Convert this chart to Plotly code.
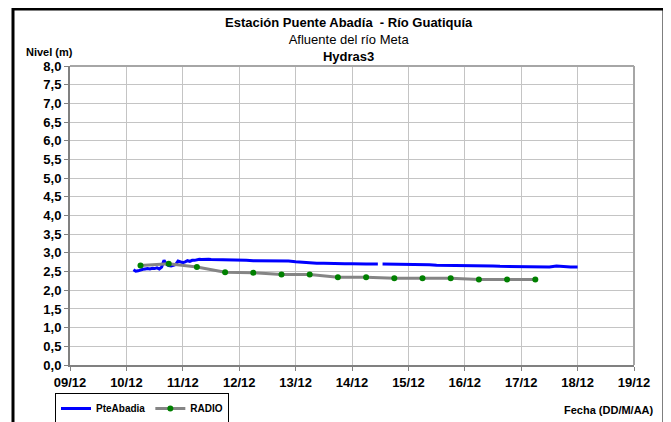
"""Nivel del río Guatiquía en la estación Puente Abadía (Hydras3 vs RADIO)."""

import plotly.graph_objects as go

# ── Data ──────────────────────────────────────────────────────────────────────
pte_times = [
    "2010-12-10 03:00", "2010-12-10 04:00", "2010-12-10 05:00", "2010-12-10 06:00",
    "2010-12-10 07:00", "2010-12-10 08:00", "2010-12-10 09:00", "2010-12-10 10:00",
    "2010-12-10 11:00", "2010-12-10 12:00", "2010-12-10 13:00", "2010-12-10 14:00",
    "2010-12-10 15:00", "2010-12-10 16:00", "2010-12-10 17:00", "2010-12-10 18:00",
    "2010-12-10 19:00", "2010-12-10 20:00", "2010-12-10 21:00", "2010-12-10 22:00",
    "2010-12-10 23:00", "2010-12-11 00:00", "2010-12-11 01:00", "2010-12-11 02:00",
    "2010-12-11 03:00", "2010-12-11 04:00", "2010-12-11 05:00", "2010-12-11 06:00",
    "2010-12-11 07:00", "2010-12-11 08:00", "2010-12-11 09:00", "2010-12-11 10:00",
    "2010-12-11 11:00", "2010-12-11 12:00",
    "2010-12-11 15:00", "2010-12-11 18:00", "2010-12-11 21:00",
    "2010-12-12 00:00", "2010-12-12 03:00", "2010-12-12 06:00", "2010-12-12 09:00",
    "2010-12-12 12:00", "2010-12-12 15:00", "2010-12-12 18:00", "2010-12-12 21:00",
    "2010-12-13 00:00", "2010-12-13 03:00", "2010-12-13 06:00", "2010-12-13 09:00",
    "2010-12-13 12:00", "2010-12-13 15:00", "2010-12-13 18:00", "2010-12-13 21:00",
    "2010-12-14 00:00", "2010-12-14 03:00", "2010-12-14 06:00", "2010-12-14 09:00",
    "2010-12-14 11:00", "2010-12-14 12:00", "2010-12-14 13:00", "2010-12-14 15:00",
    "2010-12-14 18:00", "2010-12-14 21:00",
    "2010-12-15 00:00", "2010-12-15 03:00", "2010-12-15 06:00", "2010-12-15 09:00",
    "2010-12-15 12:00", "2010-12-15 15:00", "2010-12-15 18:00", "2010-12-15 21:00",
    "2010-12-16 00:00", "2010-12-16 03:00", "2010-12-16 06:00", "2010-12-16 09:00",
    "2010-12-16 12:00", "2010-12-16 15:00", "2010-12-16 18:00", "2010-12-16 21:00",
    "2010-12-17 00:00", "2010-12-17 03:00", "2010-12-17 06:00", "2010-12-17 09:00",
    "2010-12-17 12:00", "2010-12-17 15:00", "2010-12-17 18:00", "2010-12-17 21:00",
    "2010-12-18 00:00",
]
pte_levels = [
    2.55, 2.51, 2.52, 2.55, 2.56, 2.57, 2.58, 2.57,
    2.59, 2.58, 2.60, 2.57, 2.62, 2.80, 2.70, 2.66,
    2.65, 2.67, 2.69, 2.78, 2.77, 2.74, 2.76, 2.79,
    2.77, 2.80, 2.80, 2.82, 2.83, 2.82, 2.83, 2.82,
    2.83, 2.82,
    2.82, 2.81, 2.81,
    2.80, 2.80, 2.79, 2.79, 2.78, 2.78, 2.79, 2.78,
    2.76, 2.74, 2.73, 2.72, 2.72, 2.71, 2.72, 2.71,
    2.71, 2.70, 2.70, 2.70, 2.70, None, 2.70, 2.70,
    2.69, 2.69,
    2.69, 2.69, 2.68, 2.68, 2.67, 2.67, 2.67, 2.66,
    2.66, 2.66, 2.65, 2.65, 2.65, 2.64, 2.64, 2.64,
    2.64, 2.63, 2.63, 2.64, 2.62, 2.65, 2.63, 2.62,
    2.62,
]

radio_times = [
    "2010-12-10 06:00", "2010-12-10 18:00", "2010-12-11 06:00", "2010-12-11 18:00",
    "2010-12-12 06:00", "2010-12-12 18:00", "2010-12-13 06:00", "2010-12-13 18:00",
    "2010-12-14 06:00", "2010-12-14 18:00", "2010-12-15 06:00", "2010-12-15 18:00",
    "2010-12-16 06:00", "2010-12-16 18:00", "2010-12-17 06:00",
]
radio_levels = [
    2.66, 2.71, 2.62, 2.48, 2.47, 2.42, 2.42, 2.35,
    2.35, 2.32, 2.32, 2.32, 2.29, 2.29, 2.29,
]

# ── Style ─────────────────────────────────────────────────────────────────────
_FONT = "Liberation Sans, Arial, sans-serif"
_GRID = "#c4c4c4"
_AXIS = "#808080"

# the page body has an 8px margin, so the figure is sized and placed to match
_OFF = 8
_W, _H = 671 - _OFF, 422 - _OFF
# plot area in page pixels: x 70..634, y 66..365
_L, _R, _T, _B = 70 - _OFF, 634 - _OFF, 66 - _OFF, 365 - _OFF


def _px(x):
    """Page pixel x -> paper coordinate."""
    return (x - _OFF - _L) / (_R - _L)


def _py(y):
    """Page pixel y -> paper coordinate."""
    return (_B - (y - _OFF)) / (_B - _T)


fig = go.Figure()
fig.add_trace(go.Scatter(
    x=pte_times, y=pte_levels, mode="lines", name="PteAbadia",
    line=dict(color="#0000ff", width=3), connectgaps=False,
))
fig.add_trace(go.Scatter(
    x=radio_times, y=radio_levels, mode="lines+markers", name="RADIO",
    line=dict(color="#858585", width=3),
    marker=dict(color="#008000", size=6),
))

fig.update_layout(
    width=_W, height=_H,
    margin=dict(l=_L, r=_W - _R, t=_T, b=_H - _B, autoexpand=False),
    paper_bgcolor="white", plot_bgcolor="white",
    font=dict(family=_FONT, color="black"),
    separators=",.",
    showlegend=True,
    legend=dict(
        orientation="h", xref="container", yref="container",
        x=(55 - _OFF) / _W, y=1 - (393 - _OFF) / _H, xanchor="left", yanchor="top",
        bordercolor="black", borderwidth=1, bgcolor="white",
        font=dict(size=10, family=_FONT, weight="bold"),
        itemwidth=30, tracegroupgap=0,
    ),
    xaxis=dict(
        type="date", range=["2010-12-09", "2010-12-19"],
        dtick=86400000, tickformat="%d/%m", tick0="2010-12-09",
        showgrid=True, gridcolor=_GRID, gridwidth=1,
        showline=True, linecolor=_AXIS, linewidth=2, mirror=False,
        ticks="outside", ticklen=4, tickcolor=_AXIS,
        tickfont=dict(size=13, weight="bold"), zeroline=False,
    ),
    yaxis=dict(
        range=[0, 8], dtick=0.5, tickformat=".1f",
        showgrid=True, gridcolor=_GRID, gridwidth=1,
        showline=True, linecolor=_AXIS, linewidth=2,
        ticks="outside", ticklen=4, tickcolor=_AXIS,
        tickfont=dict(size=13, weight="bold"), zeroline=False,
    ),
)

# plot border (top and right) in light gray
fig.add_shape(type="line", xref="paper", yref="paper", x0=0, x1=1, y0=1, y1=1,
              line=dict(color="#a6a6a6", width=2))
fig.add_shape(type="line", xref="paper", yref="paper", x0=1, x1=1, y0=0, y1=1,
              line=dict(color="#a6a6a6", width=2))
# outer black frame
fig.add_shape(type="rect", xref="paper", yref="paper",
              x0=_px(13), x1=_px(664), y0=_py(440), y1=_py(9),
              line=dict(color="black", width=3), layer="above")

fig.add_annotation(
    xref="paper", yref="paper", x=_px(349), y=_py(39), showarrow=False,
    text="<b>Estación Puente Abadía  - Río Guatiquía</b><br>Afluente del río Meta<br><b>Hydras3</b>",
    font=dict(size=13), align="center", xanchor="center", yanchor="middle",
)
fig.add_annotation(
    xref="paper", yref="paper", x=_px(24), y=_py(52), showarrow=False,
    text="<b>Nivel (m)</b>", font=dict(size=11), xanchor="left", yanchor="middle",
)
fig.add_annotation(
    xref="paper", yref="paper", x=_px(656), y=_py(410), showarrow=False,
    text="<b>Fecha (DD/M/AA)</b>", font=dict(size=11), xanchor="right", yanchor="middle",
)

fig.write_html("out.html")
